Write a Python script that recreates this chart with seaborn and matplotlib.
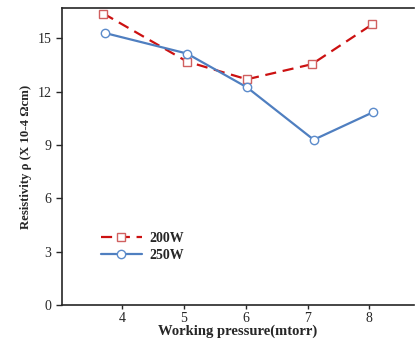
import matplotlib
matplotlib.use("Agg")
import matplotlib.pyplot as plt
import seaborn as sns
import pandas as pd

sns.set_style("ticks")
plt.rcParams['font.family'] = ['Liberation Serif', 'DejaVu Serif']
plt.rcParams['mathtext.fontset'] = 'stix'

x_200 = [3.70, 5.05, 6.02, 7.07, 8.05]
y_200 = [16.4, 13.7, 12.7, 13.55, 15.8]
x_250 = [3.73, 5.05, 6.02, 7.10, 8.06]
y_250 = [15.3, 14.15, 12.25, 9.3, 10.85]
xticks = [4, 5, 6, 7, 8]
yticks = [0, 3, 6, 9, 12, 15]

fig = plt.figure(figsize=(4.16, 3.42), dpi=100)
ax = fig.add_axes([0.149, 0.108, 0.846, 0.868])

sns.lineplot(x=x_200, y=y_200, ax=ax, color='#CC1111', linestyle=(0, (5, 3)),
             linewidth=1.6, marker='s', markersize=6, markerfacecolor='white',
             markeredgecolor='#D06060', markeredgewidth=1.0, label='200W', sort=False)
sns.lineplot(x=x_250, y=y_250, ax=ax, color='#4F7FC0', linewidth=1.6,
             marker='o', markersize=6, markerfacecolor='white',
             markeredgecolor='#5B8BCB', markeredgewidth=1.0, label='250W', sort=False)

ax.set_xlim(3.03, 8.72)
ax.set_ylim(0, 16.7)
ax.set_xticks(xticks)
ax.set_yticks(yticks)
ax.tick_params(axis='both', direction='out', length=4, width=1, labelsize=10)
ax.tick_params(axis='x', pad=2, length=3)
for s in ax.spines.values():
    s.set_linewidth(1.2)
ax.spines['right'].set_visible(False)

ax.set_xlabel('Working pressure(mtorr)', fontsize=10.5, fontweight='bold', labelpad=0)
ax.set_ylabel('Resistivity ρ (X 10-4 Ωcm)', fontsize=9.2, fontweight='bold', labelpad=4)

leg = ax.legend(loc='upper left', bbox_to_anchor=(0.09, 0.27), frameon=False,
                handlelength=3, handletextpad=0.5, borderpad=0, labelspacing=0.3,
                prop={'weight': 'bold', 'size': 10})

fig.savefig('out.png', dpi=100)
